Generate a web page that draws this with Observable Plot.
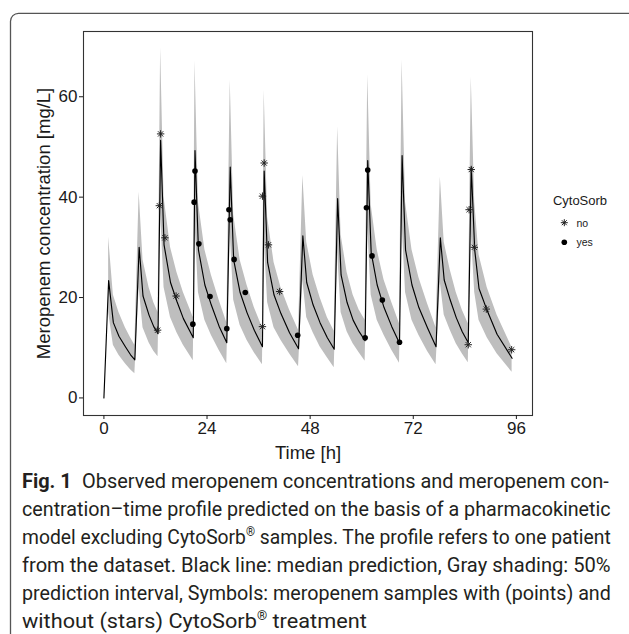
<!DOCTYPE html>
<html>
<head>
<meta charset="utf-8">
<script src="https://cdn.jsdelivr.net/npm/d3@7"></script>
<script src="https://cdn.jsdelivr.net/npm/@observablehq/plot@0.6"></script>
<style>
  html, body { margin: 0; padding: 0; background: #fff; }
  #page { position: relative; width: 629px; height: 634px; overflow: hidden; background: #fff; }
  #plot { position: absolute; left: 0; top: 0; }
  #overlay { position: absolute; left: 0; top: 0; pointer-events: none; }
</style>
</head>
<body>
<div id="page">
  <div id="plot"></div>
  <svg id="overlay" width="629" height="634"></svg>
</div>
<script>
// ---- Prediction profile (median + 50% prediction interval) ----
const predT = [
  0, 1.1, 2.2, 3.5, 5.0, 6.2, 7.2,
  8.2, 9.1, 10.5, 11.6, 12.6,
  13.2, 14.0, 15.5, 17.0, 18.5, 20.8,
  21.2, 22.0, 23.5, 25.0, 26.8, 28.6,
  29.4, 30.2, 31.7, 33.3, 35.0, 36.9,
  37.3, 38.1, 39.6, 41.2, 43.2, 45.3,
  46.3, 47.2, 48.7, 50.3, 52.0, 53.6,
  54.4, 55.2, 56.6, 58.0, 59.4, 60.8,
  61.4, 62.2, 63.6, 65.2, 67.0, 68.8,
  69.4, 70.2, 71.7, 73.3, 75.3, 77.3,
  78.3, 79.2, 80.6, 82.0, 83.4, 84.8,
  85.5, 86.3, 87.3, 89.2, 91.5, 95.0
];
const predMedian = [
  0, 23.4, 15.0, 12.3, 10.2, 8.6, 7.6,
  30.0, 20.3, 16.5, 14.2, 12.8,
  51.3, 30.5, 23.0, 19.2, 15.8, 12.0,
  49.3, 29.5, 22.5, 18.5, 14.3, 11.0,
  46.0, 27.5, 21.0, 17.0, 13.5, 10.2,
  45.2, 27.0, 20.5, 16.8, 13.0, 9.8,
  32.3, 23.0, 18.5, 15.0, 12.0, 9.7,
  39.7, 24.5, 19.0, 15.5, 13.2, 11.4,
  47.3, 29.0, 22.5, 18.0, 14.2, 10.9,
  48.3, 29.5, 22.5, 18.0, 14.0, 10.2,
  31.9, 23.5, 19.5, 16.0, 13.2, 11.0,
  46.0, 29.5, 21.8, 17.4, 12.7, 7.9
];
const predLower = [
  null, 17, 10.5, 8.5, 6.8, 5.6, 4.8,
  22, 14, 11, 9.3, 8.2,
  37, 22, 16, 13, 10.5, 7.4,
  35, 21, 15.5, 12.5, 9.5, 6.8,
  33, 19.5, 14.5, 11.5, 9.0, 6.6,
  32, 19, 14, 11.5, 8.8, 6.2,
  23.5, 16, 13, 10.2, 8.0, 6.0,
  29, 17, 13.2, 10.8, 9.0, 7.3,
  34, 20.5, 15.5, 12.5, 9.5, 6.9,
  35, 21, 15.5, 12.5, 9.3, 6.6,
  23, 16.5, 13.5, 10.8, 8.8, 7.0,
  33, 21, 15.5, 12, 8.8, 5.1
];
const predUpper = [
  null, 32, 20.5, 17, 14, 12, 10.5,
  41, 27.5, 22, 19, 17,
  69.7, 40, 30, 25, 21, 16,
  67.1, 39, 29.5, 24.5, 19.5, 15,
  63.3, 36.5, 27.5, 22.5, 18, 14,
  61.3, 36, 27, 22, 17.5, 13.5,
  44.3, 31, 24.5, 20, 16, 13.3,
  54, 32.5, 25, 20.5, 17.5, 15.5,
  64.4, 38.5, 29.5, 23.5, 19, 14.8,
  67.3, 39, 29.5, 24, 18.8, 14,
  44, 31, 25.5, 21, 17.5, 14.8,
  63.9, 39, 28.5, 22, 16.5, 10
];

// ---- Observed samples ----
// CytoSorb = "no" (stars)
const noT = [12.5, 12.9, 13.2, 14.2, 16.8, 36.9, 36.9, 37.3, 38.3, 40.9, 84.8, 85.0, 85.5, 86.2, 89.0, 94.9];
const noC = [13.5, 38.3, 52.6, 31.9, 20.3, 14.2, 40.2, 46.8, 30.5, 21.2, 10.6, 37.5, 45.5, 30.0, 17.7, 9.6];
// CytoSorb = "yes" (points)
const yesT = [20.7, 21.0, 21.2, 22.1, 24.7, 28.6, 29.1, 29.4, 30.3, 32.9, 45.1, 60.8, 61.1, 61.4, 62.4, 64.8, 68.8];
const yesC = [14.7, 39.0, 45.2, 30.7, 20.2, 13.8, 37.5, 35.5, 27.6, 21.0, 12.5, 12.0, 37.9, 45.4, 28.3, 19.5, 11.1];

// ---- Axes / legend text ----
const xTicks = [0, 24, 48, 72, 96];
const yTicks = [0, 20, 40, 60];
const legendTitle = "CytoSorb";
const legendLabels = ["no", "yes"];

const pred = predT.map((t, i) => ({t, med: predMedian[i], lo: predLower[i], hi: predUpper[i]}));
const obsNo = noT.map((t, i) => ({t, c: noC[i]}));
const obsYes = yesT.map((t, i) => ({t, c: yesC[i]}));

// ggplot-like 8-armed asterisk (shape 8)
const asterisk8 = {
  draw(ctx, size) {
    const r = Math.sqrt(size / Math.PI);
    const d = r * Math.SQRT1_2;
    ctx.moveTo(-r, 0); ctx.lineTo(r, 0);
    ctx.moveTo(0, -r); ctx.lineTo(0, r);
    ctx.moveTo(-d, -d); ctx.lineTo(d, d);
    ctx.moveTo(-d, d); ctx.lineTo(d, -d);
  }
};

const font = "'Liberation Sans', Arial, Helvetica, sans-serif";

const chart = Plot.plot({
  width: 629,
  height: 470,
  marginLeft: 83,
  marginRight: 97,
  marginTop: 31,
  marginBottom: 55,
  style: {fontFamily: font, background: "transparent", overflow: "visible"},
  x: {domain: [-4.75, 99.75]},
  y: {domain: [-3.5, 73]},
  marks: [
    Plot.areaY(pred, {x: "t", y1: "lo", y2: "hi", fill: "#bebebe", curve: "linear"}),
    Plot.line(pred, {x: "t", y: "med", stroke: "#000", strokeWidth: 1.15, curve: "linear"}),
    Plot.dot(obsNo, {x: "t", y: "c", symbol: asterisk8, r: 3.7, fill: "none", stroke: "#222", strokeWidth: 1}),
    Plot.dot(obsYes, {x: "t", y: "c", symbol: "circle", r: 2.8, fill: "#000", stroke: "none"}),
    Plot.frame({stroke: "#333", strokeWidth: 1.1}),
    Plot.axisX(xTicks, {anchor: "bottom", tickSize: 4, tickPadding: 2, fontSize: 17, color: "#1a1a1a",
      label: "Time [h]", labelAnchor: "center", labelOffset: 43, labelArrow: false}),
    Plot.axisY(yTicks, {anchor: "left", tickSize: 4, tickPadding: 2, fontSize: 17, color: "#1a1a1a",
      label: "Meropenem concentration [mg/L]", labelAnchor: "center", labelOffset: 47, labelArrow: false})
  ]
});
document.getElementById("plot").appendChild(chart);
d3.select(chart).selectAll("g[aria-label='x-axis label'] text, g[aria-label='y-axis label'] text")
  .attr("font-size", 18.5);

// ---- Overlay: outer frame, legend, caption ----
const ov = d3.select("#overlay");
ov.append("rect")
  .attr("x", 10.5).attr("y", 13.3).attr("width", 625).attr("height", 700)
  .attr("rx", 8).attr("fill", "none").attr("stroke", "#555").attr("stroke-width", 1.3);

// legend
const lg = ov.append("g").attr("font-family", font);
lg.append("text").attr("x", 580).attr("y", 204.5).attr("text-anchor", "middle")
  .attr("font-size", 13).attr("fill", "#1a1a1a").text(legendTitle);
const rowY = [222.7, 242.3];
legendLabels.forEach((lab, i) => {
  const y = rowY[i];
  if (i === 0) {
    const p = d3.path(); asterisk8.draw(p, Math.PI * 3.5 * 3.5);
    lg.append("path").attr("transform", `translate(564.3,${y})`).attr("d", p.toString())
      .attr("fill", "none").attr("stroke", "#222").attr("stroke-width", 1);
  } else {
    lg.append("circle").attr("cx", 564.3).attr("cy", y).attr("r", 2.8).attr("fill", "#000");
  }
  lg.append("text").attr("x", 576.5).attr("y", y + 3.8).attr("font-size", 10.5)
    .attr("fill", "#1a1a1a").text(lab);
});

// caption: each line is scaled horizontally to the justified width of the reference
const capFont = "Roboto, 'Noto Sans', 'Liberation Sans', sans-serif";
const cap = ov.append("g").attr("font-family", capFont).attr("font-size", 20).attr("fill", "#231f20");
const capX = 22;
const baselines = [488, 516, 544, 572, 600, 628];
function capLine(i, parts, width) {
  const g = cap.append("g").attr("transform", `translate(${capX},${baselines[i]})`);
  const t = g.append("text").attr("x", 0).attr("y", 0);
  parts.forEach(p => {
    const s = t.append("tspan").text(p.text);
    if (p.bold) s.attr("font-weight", "bold");
    if (p.sup) s.attr("font-size", 12).attr("dy", -8);
    if (p.after) s.attr("dy", 8);
  });
  const w = t.node().getComputedTextLength();
  if (w > 0) t.attr("transform", `scale(${(width / w).toFixed(4)},1)`);
}
capLine(0, [{text: "Fig. 1", bold: true}, {text: "\u2002Observed meropenem concentrations and meropenem con-"}], 587);
capLine(1, [{text: "centration\u2013time profile predicted on the basis of a pharmacokinetic"}], 589);
capLine(2, [{text: "model excluding CytoSorb"}, {text: "\u00AE", sup: true}, {text: " samples. The profile refers to one patient", after: true}], 589);
capLine(3, [{text: "from the dataset. Black line: median prediction, Gray shading: 50%"}], 589);
capLine(4, [{text: "prediction interval, Symbols: meropenem samples with (points) and"}], 589);
capLine(5, [{text: "without (stars) CytoSorb"}, {text: "\u00AE", sup: true}, {text: " treatment", after: true}], 345);
</script>
</body>
</html>
